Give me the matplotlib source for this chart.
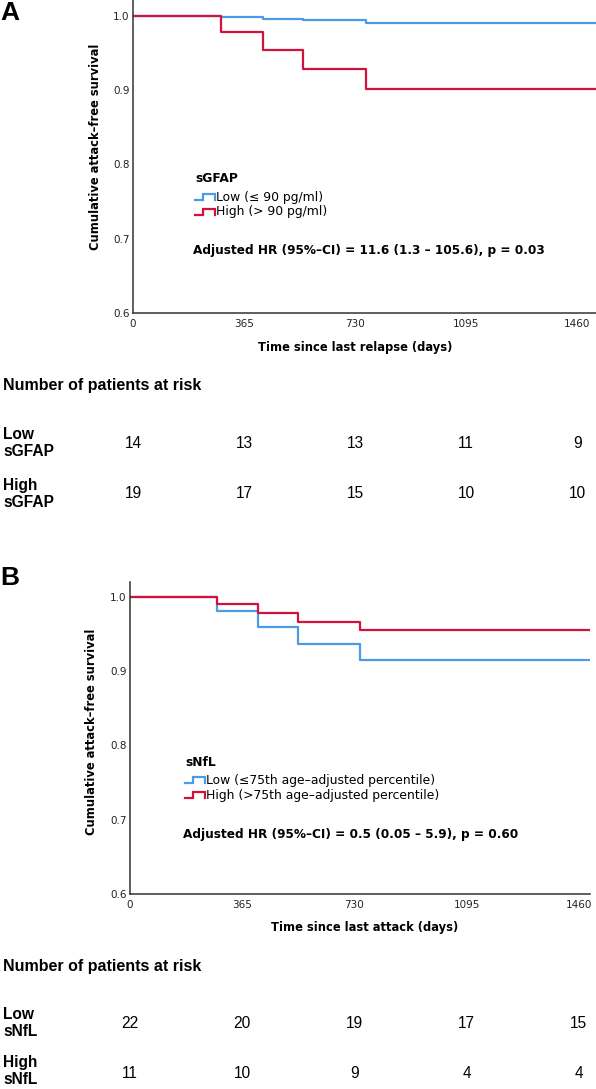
import matplotlib
matplotlib.use("Agg")
import matplotlib.pyplot as plt
from matplotlib.legend_handler import HandlerBase
from matplotlib.lines import Line2D
import matplotlib.transforms as mtransforms

# ---------------- data ----------------
x_ticks = [0, 365, 730, 1095, 1460]
y_ticks = [0.6, 0.7, 0.8, 0.9, 1.0]

# Panel A (sGFAP)
a_times = [0, 290, 428, 560, 765, 1525]
a_low = [1.0, 0.998, 0.996, 0.994, 0.991, 0.991]
a_high = [1.0, 0.978, 0.954, 0.929, 0.902, 0.902]
a_risk_low = [14, 13, 13, 11, 9]
a_risk_high = [19, 17, 15, 10, 10]

# Panel B (sNfL)
b_times = [0, 283, 416, 546, 748, 1500]
b_low = [1.0, 0.981, 0.959, 0.937, 0.915, 0.915]
b_high = [1.0, 0.991, 0.978, 0.967, 0.955, 0.955]
b_risk_low = [22, 20, 19, 17, 15]
b_risk_high = [11, 10, 9, 4, 4]

BLUE = "#4b9be6"
RED = "#d3123c"
FONT = "DejaVu Sans"
RISKFONT = "Liberation Sans"

W, H = 596, 1089
fig = plt.figure(figsize=(W / 100, H / 100), dpi=100)


class StepHandler(HandlerBase):
    def create_artists(self, legend, orig_handle, xdescent, ydescent,
                       width, height, fontsize, trans):
        x0 = -xdescent
        y0 = -ydescent
        lo = y0 + 0.1 * height
        hi = y0 + 0.8 * height
        xs = [x0, x0 + 0.4 * width, x0 + 0.4 * width, x0 + width, x0 + width]
        ys = [lo, lo, hi, hi, lo]
        ln = Line2D(xs, ys, color=orig_handle.get_color(),
                    lw=orig_handle.get_linewidth(), transform=trans,
                    solid_joinstyle="miter")
        return [ln]


def make_panel(rect, times, low, high, xmax, ymax, xlabel, xlabel_pos,
               ylabel_pos, leg_title, title_pos, leg_labels, leg_pos,
               hr_text, hr_pos):
    ax = fig.add_axes(rect)
    l1, = ax.step(times, low, where="post", color=BLUE, lw=1.6,
                  label=leg_labels[0])
    l2, = ax.step(times, high, where="post", color=RED, lw=1.6,
                  label=leg_labels[1])
    ax.set_xlim(0, xmax)
    ax.set_ylim(0.6, ymax)
    ax.set_xticks(x_ticks)
    ax.set_yticks(y_ticks)
    ax.set_yticklabels([f"{v:.1f}" for v in y_ticks])
    ax.tick_params(length=0, labelsize=7.5, colors="#222222")
    ax.tick_params(axis="x", pad=4)
    ax.tick_params(axis="y", pad=2.5)
    for s in ["top", "right"]:
        ax.spines[s].set_visible(False)
    for s in ["left", "bottom"]:
        ax.spines[s].set_color("#333333")
        ax.spines[s].set_linewidth(1.1)
    for lab in ax.get_xticklabels() + ax.get_yticklabels():
        lab.set_family(FONT)
    ax.set_ylabel("Cumulative attack\u2013free survival", fontsize=8.3,
                  fontweight="bold", family=FONT)
    ax.yaxis.set_label_coords(*ylabel_pos)
    ax.set_xlabel(xlabel, fontsize=8.3, fontweight="bold", family=FONT)
    ax.xaxis.set_label_coords(*xlabel_pos)
    ax.text(title_pos[0], title_pos[1], leg_title, transform=ax.transAxes,
            fontsize=8.8, fontweight="bold", family=FONT, va="center",
            ha="left")
    ax.legend(handles=[l1, l2], loc="upper left",
              bbox_to_anchor=leg_pos, frameon=False, borderpad=0,
              borderaxespad=0, handlelength=1.6, handletextpad=0.1,
              labelspacing=0.15,
              handler_map={Line2D: StepHandler()},
              prop={"family": FONT, "size": 8.9})
    ax.text(hr_pos[0], hr_pos[1], hr_text, transform=ax.transAxes,
            fontsize=8.7, fontweight="bold", family=FONT, va="center",
            ha="left")
    return ax


def px_rect(left, top, right, bottom):
    return [left / W, 1 - bottom / H, (right - left) / W, (bottom - top) / H]


# Panel A
axA = make_panel(px_rect(133, 0, 596, 313), a_times, a_low, a_high,
                 1522, 1.0215, "Time since last relapse (days)",
                 (0.48, -0.089), (-0.067, 0.53), "sGFAP", (0.134, 0.431),
                 ["Low (\u2264 90 pg/ml)", "High (> 90 pg/ml)"],
                 (0.134, 0.391),
                 "Adjusted HR (95%\u2013CI) = 11.6 (1.3 \u2013 105.6), p = 0.03",
                 (0.13, 0.2))

# Panel B
axB = make_panel(px_rect(130, 582, 590, 894), b_times, b_low, b_high,
                 1496, 1.0202, "Time since last attack (days)",
                 (0.51, -0.085), (-0.07, 0.52), "sNfL", (0.12, 0.423),
                 ["Low (\u226475th age\u2013adjusted percentile)",
                  "High (>75th age\u2013adjusted percentile)"],
                 (0.12, 0.385),
                 "Adjusted HR (95%\u2013CI) = 0.5 (0.05 \u2013 5.9), p = 0.60",
                 (0.115, 0.19))

# panel letters
fig.text(0 / W, 1 - 13 / H, "A", fontsize=19, fontweight="bold",
         family=RISKFONT, va="center", ha="left")
fig.text(0 / W, 1 - 578 / H, "B", fontsize=19, fontweight="bold",
         family=RISKFONT, va="center", ha="left")


def risk_table(ax, y_title, y_low, y_high, low_label, high_label,
               low_vals, high_vals, label_shift=0):
    fig.text(3 / W, 1 - y_title / H, "Number of patients at risk",
             fontsize=11.5, fontweight="bold", family=RISKFONT,
             va="center", ha="left")
    fig.text(3 / W, 1 - y_low / H, low_label, fontsize=11.2,
             fontweight="bold", family=RISKFONT, va="center", ha="left",
             linespacing=1.2)
    fig.text(3 / W, 1 - (y_high - label_shift) / H, high_label,
             fontsize=11.2, fontweight="bold", family=RISKFONT,
             va="center", ha="left", linespacing=1.2)
    tr = mtransforms.blended_transform_factory(ax.transData, fig.transFigure)
    for xv, lv, hv in zip(x_ticks, low_vals, high_vals):
        fig.text(xv, 1 - y_low / H, str(lv), transform=tr, fontsize=11.2,
                 family=RISKFONT, va="center", ha="center")
        fig.text(xv, 1 - y_high / H, str(hv), transform=tr, fontsize=11.2,
                 family=RISKFONT, va="center", ha="center")


risk_table(axA, 385, 443, 494, "Low\nsGFAP", "High\nsGFAP",
           a_risk_low, a_risk_high)
risk_table(axB, 966, 1023, 1074, "Low\nsNfL", "High\nsNfL",
           b_risk_low, b_risk_high, label_shift=3)

fig.savefig("out.png", dpi=100)
